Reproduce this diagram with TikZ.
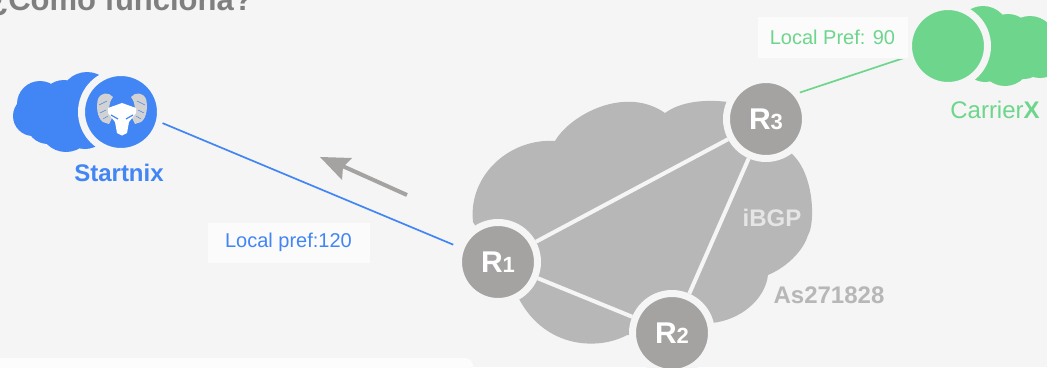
\documentclass[tikz,border=0pt]{standalone}
\usepackage{fontspec}
\setmainfont{Liberation Sans}
\usetikzlibrary{arrows.meta}
\definecolor{bgc}{HTML}{F5F5F5}
\definecolor{bluec}{HTML}{4285F4}
\definecolor{greenc}{HTML}{6DD58C}
\definecolor{cloudc}{HTML}{B7B7B7}
\definecolor{nodec}{HTML}{A5A3A1}
\definecolor{titlec}{HTML}{7F7F7F}
\definecolor{ramc}{HTML}{D2D2D2}
\newcommand{\fs}[1]{\fontsize{#1}{#1}\selectfont}
\newcommand{\rname}[1]{{\fs{30}\bfseries R}{\fs{22}\bfseries #1}}
\tikzset{
  router/.style={circle,fill=nodec,draw=bgc,line width=7pt,minimum size=79pt,inner sep=0pt,text=white},
  isp/.style={circle,fill=#1,draw=bgc,line width=7pt,minimum size=79pt,inner sep=0pt},
  prefbox/.style={draw=black!4,fill=white!60!bgc,line width=.7pt,inner sep=0pt,font=\fs{20}},
  ibgp/.style={draw=bgc,line width=4pt},
  link/.style={line width=1.7pt}
}
\begin{document}
\begin{tikzpicture}[x=1pt,y=-1pt]
\useasboundingbox (0,0) rectangle (1047,367);
\clip (0,0) rectangle (1047,367);
\fill[bgc] (0,0) rectangle (1047,367);
% title
\node[anchor=base east,inner sep=0pt,text=titlec,font=\fs{31}\bfseries] (title) at (253,10.5) {¿Cómo funciona?};
% bottom panel
\fill[white!70!bgc,rounded corners=8pt] (-20,358) rectangle (473,400);
% gray cloud
\fill[cloudc] (473,222)
  .. controls (468,175) and (510,138) .. (555,141)
  .. controls (570,115) and (625,85) .. (665,113)
  .. controls (680,102) and (705,98) .. (735,103)
  -- (792,154)
  .. controls (815,175) and (815,225) .. (808,235)
  .. controls (803,252) and (785,268) .. (768,275)
  .. controls (765,300) and (740,320) .. (712,323)
  -- (672,335) -- (627,335)
  .. controls (600,350) and (545,350) .. (518,297)
  -- (498,262) -- cycle;
% blue cloud
\fill[bluec] (87,99) circle (27) (64,104) circle (24) (40,104) circle (23) (33,116) circle (20)
  (48,122) circle (22) (66,125) circle (27) (85,125) circle (24);
% green cloud
\fill[greenc] (983,32) circle (26) (1008,38) circle (24) (1030,42) circle (26) (1040,55) circle (23)
  (1024,58) circle (21) (1005,60) circle (26) (985,60) circle (22);
% nodes
\node[isp=bluec] (start) at (121,112) {};
\node[isp=greenc] (carrier) at (948,46) {};
\node[router] (R1) at (498,262) {\rname{1}};
\node[router] (R2) at (672,333) {\rname{2}};
\node[router] (R3) at (766,119) {\rname{3}};
% ram
\fill[ramc] (113,97) .. controls (109,92) and (101,92) .. (98,99)
  .. controls (96,106) and (97,118) .. (103,122) -- (109,124) -- (112,118)
  .. controls (108,110) and (108,104) .. (113,97) -- cycle;
\fill[ramc] (131,97) .. controls (135,92) and (143,92) .. (146,99)
  .. controls (148,106) and (147,118) .. (141,122) -- (135,124) -- (132,118)
  .. controls (136,110) and (136,104) .. (131,97) -- cycle;
\draw[bluec,line width=.5pt] (99,105) -- (107,101) (100,113) -- (106,110) (103,119) -- (108,116)
  (145,105) -- (137,101) (144,113) -- (138,110) (141,119) -- (136,116);
\fill[white] (108,108) -- (122,103) -- (136,108) -- (136,113) -- (129,122) -- (127,133) -- (122,135.5) -- (117,133) -- (115,122) -- (108,113) -- cycle;
\draw[bluec,line width=1.2pt] (111,115) -- (118,119) (133,115) -- (126,119);
% links
\draw[ibgp] (R1) -- (R3);
\draw[ibgp] (R1) -- (R2);
\draw[ibgp] (R2) -- (R3);
\draw[link,bluec,shorten >=5pt] (start.-15) -- (R1.159);
\draw[link,greenc] (R3.38) -- (carrier.195);
% labels
\node[prefbox,text=bluec,minimum width=163pt,minimum height=41pt] (pb) at (288.5,242.5) {Local pref:120};
\node[prefbox,text=greenc,minimum width=151pt,minimum height=42pt] (pg) at (832.5,37) {Local Pref: 90};
\node[text=bluec,font=\fs{24}\bfseries,inner sep=0pt] (ls) at (119,173) {Startnix};
\node[text=greenc,font=\fs{24},inner sep=0pt] (lc) at (995,110) {Carrier\textbf{X}};
\node[text=black!10,font=\fs{24}\bfseries,inner sep=0pt] (li) at (772,218) {iBGP};
\node[text=cloudc,font=\fs{24}\bfseries,inner sep=0pt] (la) at (829,295) {As271828};
% arrow
\coordinate (af) at (407,195);
\coordinate (at) at (338,164);
\draw[line width=4pt,draw=nodec] (af) -- (at);
\fill[nodec] (320,157) -- (352,158) -- (343,167) -- (342,180) -- cycle;
\end{tikzpicture}
\end{document}
